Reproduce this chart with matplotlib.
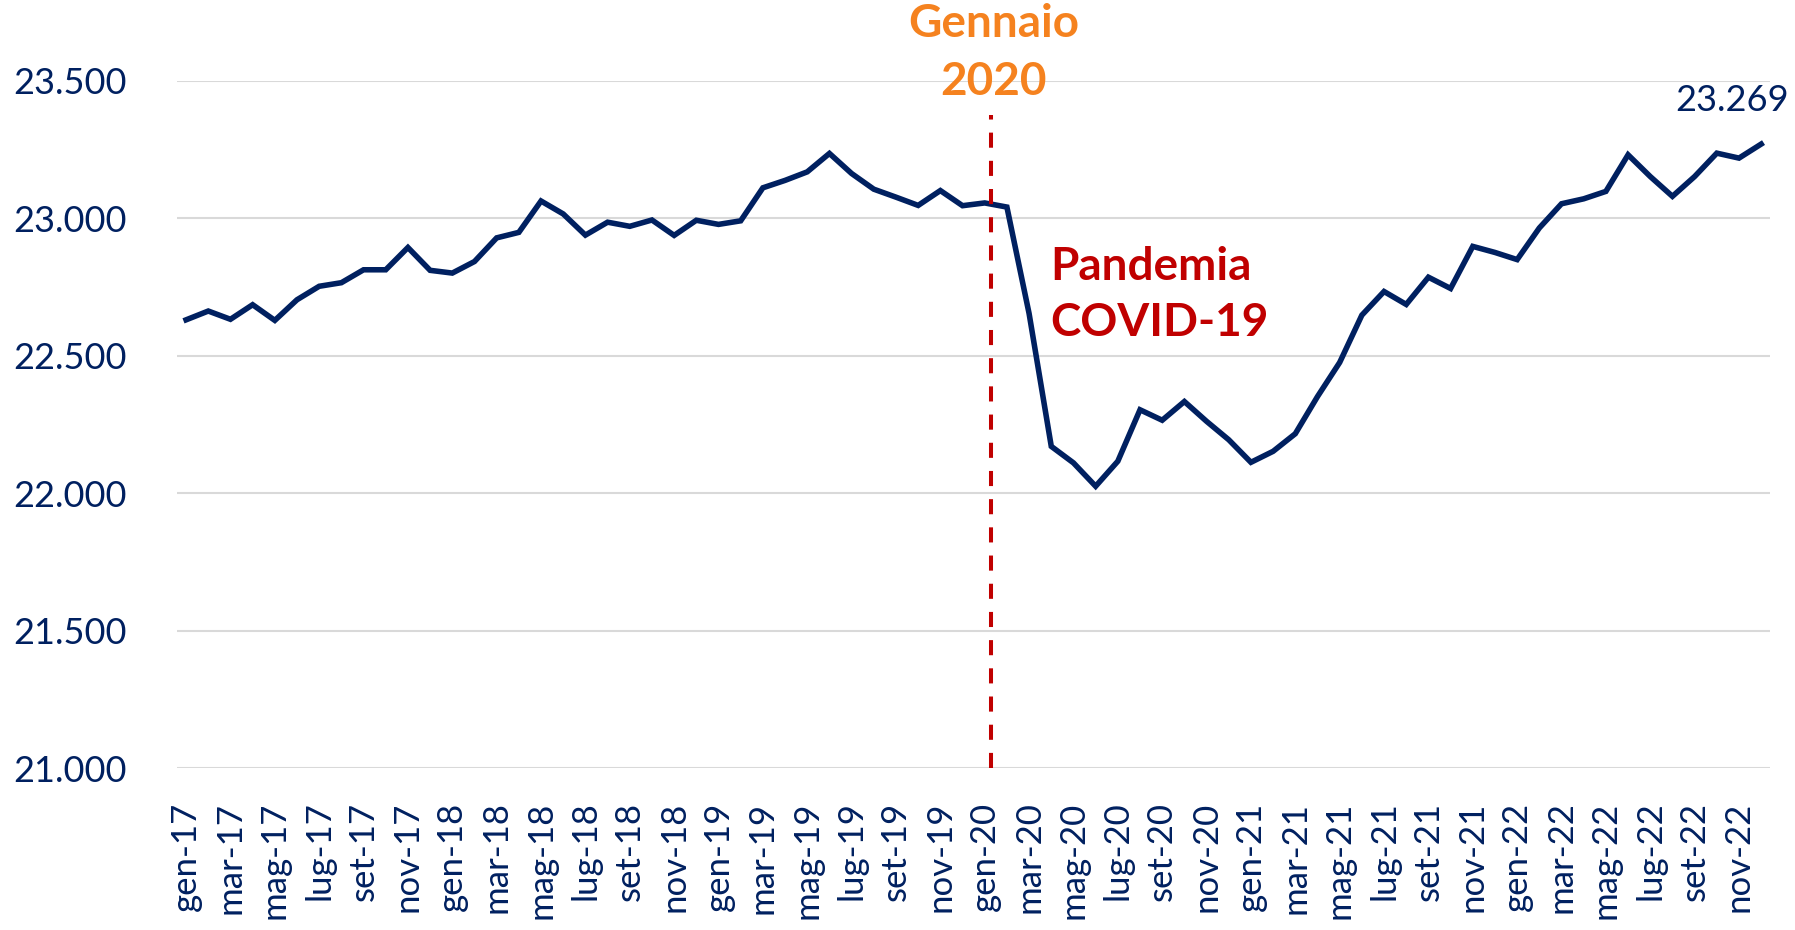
import matplotlib
matplotlib.use("Agg")
import matplotlib.pyplot as plt

# mesi e anni (etichette asse x)
mesi = ["gen", "feb", "mar", "apr", "mag", "giu",
        "lug", "ago", "set", "ott", "nov", "dic"]
anni = ["17", "18", "19", "20", "21", "22"]
periodi = [m + "-" + a for a in anni for m in mesi]

# valori mensili (migliaia)
valori = [
    22630, 22662, 22632, 22685, 22628, 22703, 22752, 22765, 22812, 22812, 22893, 22810,
    22800, 22842, 22928, 22948, 23062, 23015, 22938, 22985, 22970, 22993, 22937, 22992,
    22977, 22990, 23110, 23137, 23168, 23235, 23162, 23105, 23076, 23046, 23100, 23045,
    23055, 23040, 22653, 22170, 22110, 22025, 22116, 22303, 22265, 22333, 22261, 22194,
    22112, 22152, 22216, 22351, 22475, 22647, 22733, 22686, 22785, 22744, 22897, 22875,
    22849, 22964, 23052, 23070, 23097, 23230, 23151, 23079, 23151, 23236, 23218, 23269,
]
y_ticks = [21000, 21500, 22000, 22500, 23000, 23500]
y_labels = ["21.000", "21.500", "22.000", "22.500", "23.000", "23.500"]
ultimo_label = "23.269"

NAVY = "#002060"
ROSSO = "#C00000"
ARANCIO = "#F5821F"

plt.rcParams["font.family"] = ["Lato", "DejaVu Sans"]

fig = plt.figure(figsize=(17.95, 9.3), dpi=100)
ax = fig.add_axes([0.0986, 0.174, 0.8875, 0.7394])

x = list(range(len(valori)))
ax.plot(x, valori, color=NAVY, linewidth=4.0, solid_joinstyle="miter", zorder=3)

# linea gennaio 2020
ax.plot([36.3, 36.3], [21000, 23375], color=ROSSO, linewidth=2.9,
        linestyle=(0, (3.75, 3.25)), clip_on=False, zorder=4)

ax.set_xlim(-0.41, 71.4)
ax.set_ylim(21000, 23500)
ax.set_yticks(y_ticks)
ax.set_yticklabels(y_labels)
ax.set_xticks(x[::2])
ax.set_xticklabels(periodi[::2], rotation=90)

ax.tick_params(axis="y", length=0, pad=36, labelsize=26, labelcolor=NAVY)
ax.tick_params(axis="x", length=0, pad=24, labelsize=25, labelcolor=NAVY)
ax.grid(axis="y", color="#D9D9D9", linewidth=1.5)
ax.set_axisbelow(True)
for s in ax.spines.values():
    s.set_visible(False)

ax.text(36.4, 23600, "Gennaio\n2020", color=ARANCIO, fontsize=33,
        fontweight="bold", ha="center", va="center", linespacing=1.45)
ax.text(38.95, 22720, "Pandemia\nCOVID-19", color=ROSSO, fontsize=33,
        fontweight="bold", ha="left", va="center", linespacing=1.4)
ax.text(69.7, 23429, ultimo_label, color=NAVY, fontsize=26,
        ha="center", va="center")

fig.savefig("out.png", dpi=100)
